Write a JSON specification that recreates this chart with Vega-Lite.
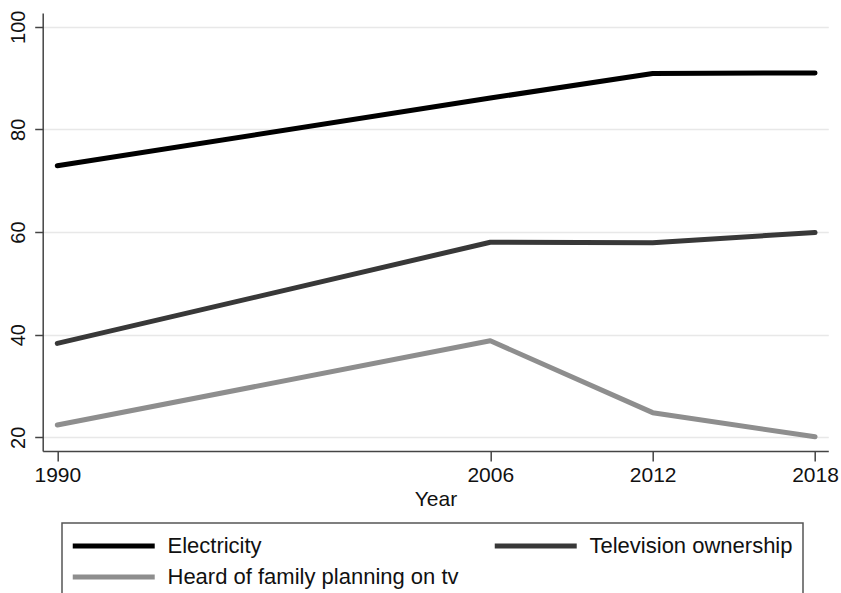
{
  "$schema": "https://vega.github.io/schema/vega-lite/v6.json",
  "width": 785.6,
  "height": 438,
  "autosize": "none",
  "padding": {"left": 42.7, "top": 13, "right": 12.7, "bottom": 142},
  "config": {"view": {"stroke": null}, "font": "Liberation Sans"},
  "data": {
    "values": [
      {"year": 1990, "series": "Electricity", "value": 72.9},
      {"year": 2006, "series": "Electricity", "value": 86.1},
      {"year": 2012, "series": "Electricity", "value": 90.9},
      {"year": 2018, "series": "Electricity", "value": 91.0},
      {"year": 1990, "series": "Television ownership", "value": 38.3},
      {"year": 2006, "series": "Television ownership", "value": 58.0},
      {"year": 2012, "series": "Television ownership", "value": 57.9},
      {"year": 2018, "series": "Television ownership", "value": 59.9},
      {"year": 1990, "series": "Heard of family planning on tv", "value": 22.4},
      {"year": 2006, "series": "Heard of family planning on tv", "value": 38.8},
      {"year": 2012, "series": "Heard of family planning on tv", "value": 24.8},
      {"year": 2018, "series": "Heard of family planning on tv", "value": 20.1}
    ]
  },
  "mark": {"type": "line", "strokeWidth": 5, "strokeCap": "round", "strokeJoin": "round"},
  "encoding": {
    "x": {
      "field": "year",
      "type": "quantitative",
      "scale": {"domain": [1989.46, 2018.49], "nice": false, "zero": false},
      "axis": {
        "values": [1990, 2006, 2012, 2018],
        "format": "d",
        "title": "Year",
        "grid": false,
        "tickSize": 10,
        "labelFontSize": 21,
        "titleFontSize": 21,
        "titleFontWeight": "normal",
        "labelPadding": 3,
        "titlePadding": 3,
        "labelColor": "#111",
        "titleColor": "#111",
        "domainColor": "#444",
        "tickColor": "#444",
        "domainWidth": 1.5,
        "tickWidth": 1.5,
        "labelFlush": false
      }
    },
    "y": {
      "field": "value",
      "type": "quantitative",
      "scale": {"domain": [17.33, 102.67], "nice": false, "zero": false},
      "axis": {
        "values": [20, 40, 60, 80, 100],
        "title": null,
        "grid": true,
        "gridColor": "#e8e8e8",
        "gridWidth": 1.5,
        "tickSize": 8,
        "labelAngle": -90,
        "labelAlign": "center",
        "labelBaseline": "bottom",
        "labelFontSize": 20,
        "labelPadding": 6,
        "labelColor": "#111",
        "domainColor": "#444",
        "tickColor": "#444",
        "domainWidth": 1.5,
        "tickWidth": 1.5,
        "labelFlush": false
      }
    },
    "color": {
      "field": "series",
      "type": "nominal",
      "scale": {
        "domain": ["Electricity", "Television ownership", "Heard of family planning on tv"],
        "range": ["#000000", "#383838", "#8e8e8e"]
      },
      "legend": {
        "orient": "none",
        "direction": "horizontal",
        "legendX": 19.3,
        "legendY": 510,
        "title": null,
        "columns": 2,
        "columnPadding": 25,
        "rowPadding": 7,
        "symbolType": "M-1,0H7",
        "symbolSize": 420,
        "symbolStrokeWidth": 5,
        "symbolFillColor": "transparent",
        "labelFontSize": 22,
        "labelColor": "#111",
        "labelOffset": 71.5,
        "labelLimit": 500,
        "padding": 10,
        "symbolOffset": -2,
        "strokeColor": "#555",
        "encode": {"legend": {"update": {"strokeWidth": {"value": 1.5}}}}
      }
    }
  }
}
